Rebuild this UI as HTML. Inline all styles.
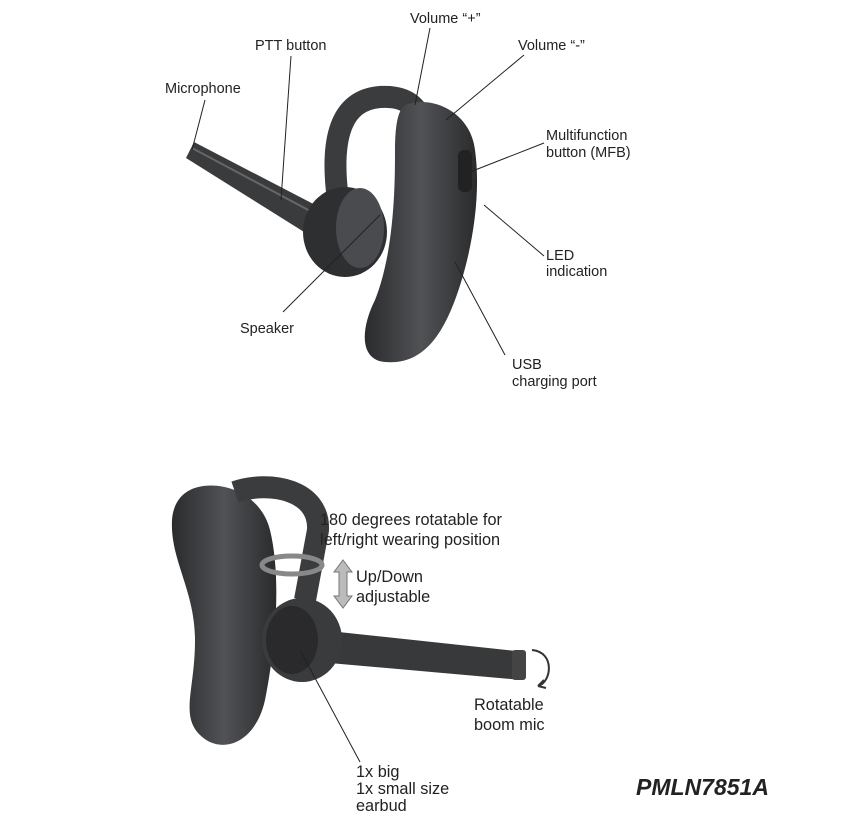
<!DOCTYPE html>
<html><head><meta charset="utf-8"><style>
html,body{margin:0;padding:0;background:#fff;}
svg{display:block;}
text{font-family:"Liberation Sans",sans-serif;fill:#222;}
</style></head><body>
<svg width="842" height="834" viewBox="0 0 842 834" xmlns="http://www.w3.org/2000/svg">
<defs>
<linearGradient id="g1" x1="0" y1="0" x2="1" y2="0"><stop offset="0" stop-color="#2a2b2d"/><stop offset="0.5" stop-color="#505255"/><stop offset="1" stop-color="#2a2b2d"/></linearGradient>
</defs>
<!-- TOP HEADSET -->
<path d="M186,158 L194,142 L348,222 L336,252 Z" fill="#3a3b3d"/>
<path d="M192,148 L342,228" stroke="#666" stroke-width="2"/>
<path d="M338,200 C330,140 340,100 380,97 C410,95 420,110 425,130" fill="none" stroke="#3b3c3e" stroke-width="22"/>
<path d="M405,105 C430,95 470,110 475,150 C482,200 470,260 455,300 C440,340 420,365 385,362 C360,360 360,330 375,300 C395,250 395,180 395,150 C395,125 398,110 405,105 Z" fill="url(#g1)"/>
<rect x="458" y="150" width="14" height="42" rx="6" fill="#222"/>
<ellipse cx="345" cy="232" rx="42" ry="45" fill="#2e2f31"/>
<ellipse cx="360" cy="228" rx="24" ry="40" fill="#4a4b4e"/>
<g font-size="14.5">
<text x="410" y="23">Volume “+”</text>
<text x="255" y="50">PTT button</text>
<text x="518" y="50">Volume “-”</text>
<text x="165" y="93">Microphone</text>
<text x="546" y="140">Multifunction</text>
<text x="546" y="157">button (MFB)</text>
<text x="546" y="260">LED</text>
<text x="546" y="276">indication</text>
<text x="240" y="333">Speaker</text>
<text x="512" y="369">USB</text>
<text x="512" y="386">charging port</text>
</g>
<g stroke="#222" stroke-width="1">
<line x1="205" y1="100" x2="192" y2="150"/>
<line x1="291" y1="56" x2="281" y2="200"/>
<line x1="430" y1="28" x2="415" y2="105"/>
<line x1="524" y1="55" x2="446" y2="120"/>
<line x1="544" y1="143" x2="470" y2="172"/>
<line x1="544" y1="256" x2="484" y2="205"/>
<line x1="283" y1="312" x2="380" y2="215"/>
<line x1="505" y1="355" x2="455" y2="262"/>
</g>
<!-- BOTTOM HEADSET -->
<path d="M190,490 C215,478 260,490 270,530 C282,580 275,650 265,700 C255,745 220,755 200,735 C180,715 195,690 195,640 C195,590 170,560 172,520 C173,505 180,495 190,490 Z" fill="url(#g1)"/>
<path d="M235,492 C270,480 320,490 318,530 L305,600" fill="none" stroke="#3b3c3e" stroke-width="22"/>
<path d="M320,630 L525,652 L522,680 L318,662 Z" fill="#38393b"/>
<rect x="512" y="650" width="14" height="30" rx="3" fill="#444"/>
<ellipse cx="302" cy="640" rx="40" ry="42" fill="#3a3b3d"/>
<ellipse cx="292" cy="640" rx="26" ry="34" fill="#2a2a2c"/>
<ellipse cx="292" cy="565" rx="30" ry="9" fill="none" stroke="#888" stroke-width="5"/>
<path d="M343,560 L352,572 L347,572 L347,596 L352,596 L343,608 L334,596 L339,596 L339,572 L334,572 Z" fill="#bbb" stroke="#777"/>
<path d="M532,650 C555,652 552,682 538,686" fill="none" stroke="#333" stroke-width="2"/>
<path d="M538,686 l6,-6 M538,686 l8,2" stroke="#333" stroke-width="2"/>
<g font-size="16.3">
<text x="320" y="525">180 degrees rotatable for</text>
<text x="320" y="545">left/right wearing position</text>
<text x="356" y="582">Up/Down</text>
<text x="356" y="602">adjustable</text>
<text x="474" y="710">Rotatable</text>
<text x="474" y="730">boom mic</text>
<text x="356" y="777">1x big</text>
<text x="356" y="794">1x small size</text>
<text x="356" y="811">earbud</text>
</g>
<line x1="360" y1="762" x2="300" y2="650" stroke="#222" stroke-width="1"/>
<text x="636" y="795" font-size="23" font-weight="bold" font-style="italic" fill="#000">PMLN7851A</text>
</svg>
</body></html>
